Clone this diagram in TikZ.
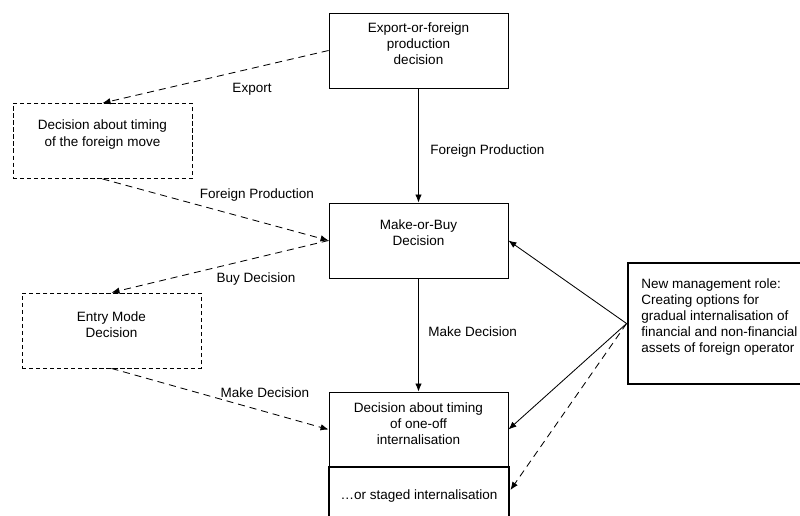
\documentclass[tikz,border=0pt]{standalone}
\usepackage{fontspec}
\setmainfont{Liberation Sans}
\usetikzlibrary{arrows.meta}

\begin{document}
\begin{tikzpicture}[x=0.025cm,y=-0.025cm,
  font=\fontsize{9.6}{11.4}\selectfont,
  box/.style={draw,line width=0.6pt,minimum width=\boxw cm,minimum height=\boxh cm,inner sep=0pt},
  dbox/.style={box,dash pattern=on 3pt off 2pt},
  bbox/.style={draw,line width=2pt,inner sep=0pt},
  txt/.style={align=center,inner sep=0pt},
  link/.style={line width=0.6pt,-{Latex[length=0.2cm,width=0.16cm]}},
  dlink/.style={link,dash pattern=on 5pt off 3.5pt}]
\pgfmathsetmacro{\boxw}{4.475}
\pgfmathsetmacro{\boxh}{1.875}
\useasboundingbox (0,0) rectangle (800,515);
\node[box] (top) at (418.5,50.5) {};
\node[txt] (toptext) at (418.5,44) {Export-or-foreign\\production\\decision};
\node[box] (make) at (418.5,240.5) {};
\node[txt] (maketext) at (418.5,233) {Make-or-Buy\\Decision};
\node[box] (timing) at (418.5,429.5) {};
\node[txt] (timingtext) at (418.5,424) {Decision about timing\\of one-off\\internalisation};
\node[bbox,minimum width=4.5cm,minimum height=1.45cm] (staged) at (419,496) {};
\node[txt] (stagedtext) at (419,496) {…or staged internalisation};
\node[dbox] (move) at (102.5,141) {};
\node[txt] (movetext) at (102.5,134.5) {Decision about timing\\of the foreign move};
\node[dbox] (entry) at (111.5,330.5) {};
\node[txt] (entrytext) at (111.5,324.5) {Entry Mode\\Decision};
\node[bbox,minimum width=4.6cm,minimum height=3.025cm] (mgmt) at (720,323.5) {};
\node[txt,anchor=west,align=left] (mgmttext) at (641,317) {New management role:\\Creating options for\\gradual internalisation of\\financial and non-financial\\assets of foreign operator};
\node[txt] (lexport) at (252,89) {Export};
\node[txt,anchor=west] (lforeign) at (430,151) {Foreign Production};
\node[txt] (lforeigntwo) at (257,195) {Foreign Production};
\node[txt] (lbuy) at (256,279) {Buy Decision};
\node[txt,anchor=west] (lmake) at (428,332) {Make Decision};
\node[txt] (lmaketwo) at (265,393) {Make Decision};
\draw[link] (top) -- (make);
\draw[dlink] (top.west) -- (move.north);
\draw[dlink] (move.south) -- (make.west);
\draw[dlink] (make.west) -- (entry.north);
\draw[dlink] (entry.south) -- (timing.west);
\draw[link] (make) -- (timing);
\draw[link] (mgmt.west) -- (make.east);
\draw[link] (mgmt.west) -- (timing.east);
\draw[dlink] (mgmt.west) -- ([yshift=0.15cm]staged.east);
\end{tikzpicture}
\end{document}
